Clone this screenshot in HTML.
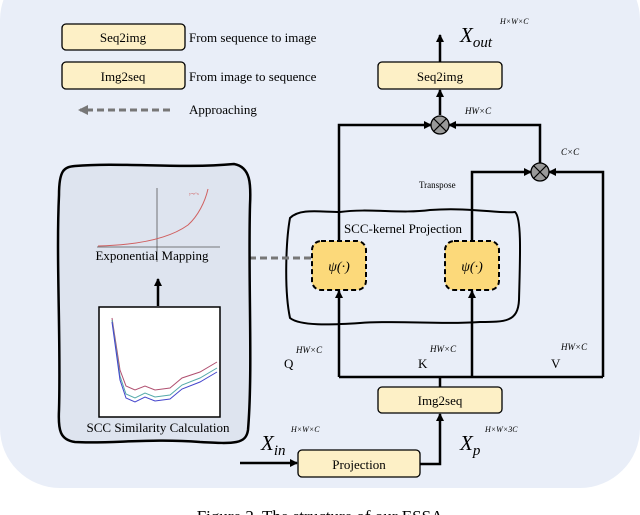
<!DOCTYPE html>
<html><head><meta charset="utf-8"><style>
body{margin:0;background:#fff}
svg{display:block}
text{font-family:"Liberation Serif",serif}
</style></head><body>
<svg width="640" height="515" viewBox="0 0 640 515">
<defs>
<marker id="a" markerWidth="8" markerHeight="8" refX="7" refY="4" orient="auto" markerUnits="userSpaceOnUse"><path d="M0,0L8,4L0,8z" fill="#000"/></marker>
<marker id="g" markerWidth="10" markerHeight="10" refX="8" refY="5" orient="auto" markerUnits="userSpaceOnUse"><path d="M0,0L10,5L0,10z" fill="#777"/></marker>
</defs>
<rect x="0" y="-40" width="640" height="528" rx="60" fill="#e9eef8"/>
<!-- legend -->
<rect x="62" y="24" width="123" height="26" rx="4" fill="#fdf0c6" stroke="#000" stroke-width="1.3"/>
<text x="123" y="42" font-size="13" text-anchor="middle">Seq2img</text>
<text x="189" y="42" font-size="13">From sequence to image</text>
<rect x="62" y="62" width="123" height="27" rx="4" fill="#fdf0c6" stroke="#000" stroke-width="1.3"/>
<text x="123" y="81" font-size="13" text-anchor="middle">Img2seq</text>
<text x="189" y="81" font-size="13">From image to sequence</text>
<line x1="170" y1="110" x2="80" y2="110" stroke="#777" stroke-width="3" stroke-dasharray="7,4" marker-end="url(#g)"/>
<text x="189" y="114" font-size="13">Approaching</text>
<!-- output -->
<rect x="378" y="62" width="124" height="27" rx="4" fill="#fdf0c6" stroke="#000" stroke-width="1.3"/>
<text x="440" y="81" font-size="13" text-anchor="middle">Seq2img</text>
<line x1="440" y1="62" x2="440" y2="35" stroke="#000" stroke-width="2.5" marker-end="url(#a)"/>
<text x="460" y="42" font-size="21" font-style="italic">X<tspan font-size="15" dy="5">out</tspan></text>
<text x="500" y="24" font-size="8" font-style="italic">H×W×C</text>
<line x1="440" y1="115" x2="440" y2="90" stroke="#000" stroke-width="2.5" marker-end="url(#a)"/>
<text x="465" y="114" font-size="9" font-style="italic">HW×C</text>
<polyline points="339,240 339,125 431,125" fill="none" stroke="#000" stroke-width="2.5" marker-end="url(#a)"/>
<polyline points="540,163 540,125 449,125" fill="none" stroke="#000" stroke-width="2.5" marker-end="url(#a)"/>
<circle cx="440" cy="125" r="9" fill="#999" stroke="#000" stroke-width="1.3"/>
<path d="M434,119L446,131M446,119L434,131" stroke="#000" stroke-width="1.2"/>
<polyline points="472,240 472,172 531,172" fill="none" stroke="#000" stroke-width="2.5" marker-end="url(#a)"/>
<polyline points="603,377 603,172 549,172" fill="none" stroke="#000" stroke-width="2.5" marker-end="url(#a)"/>
<circle cx="540" cy="172" r="9" fill="#999" stroke="#000" stroke-width="1.3"/>
<path d="M534,166L546,178M546,166L534,178" stroke="#000" stroke-width="1.2"/>
<text x="561" y="155" font-size="9" font-style="italic">C×C</text>
<text x="419" y="188" font-size="9">Transpose</text>
<!-- kernel blob -->
<path d="M290,218 C300,208 320,212 340,212 C370,208 400,214 430,210 C470,207 500,214 515,212 C522,218 520,260 519,300 C518,322 505,322 480,322 C440,325 400,320 360,323 C330,325 300,326 290,318 C284,290 286,240 290,218Z" fill="none" stroke="#000" stroke-width="2"/>
<text x="403" y="233" font-size="13" text-anchor="middle">SCC-kernel Projection</text>
<rect x="312" y="241" width="54" height="49" rx="9" fill="#fcd97a" stroke="#000" stroke-width="2" stroke-dasharray="5,3"/>
<text x="339" y="271" font-size="14" text-anchor="middle" font-style="italic">ψ(·)</text>
<rect x="445" y="241" width="54" height="49" rx="9" fill="#fcd97a" stroke="#000" stroke-width="2" stroke-dasharray="5,3"/>
<text x="472" y="271" font-size="14" text-anchor="middle" font-style="italic">ψ(·)</text>
<line x1="311" y1="258" x2="224" y2="258" stroke="#777" stroke-width="3" stroke-dasharray="7,4" marker-end="url(#g)"/>
<!-- Q K V -->
<polyline points="339,377 603,377" fill="none" stroke="#000" stroke-width="2.5"/>
<line x1="339" y1="377" x2="339" y2="291" stroke="#000" stroke-width="2.5" marker-end="url(#a)"/>
<line x1="472" y1="377" x2="472" y2="291" stroke="#000" stroke-width="2.5" marker-end="url(#a)"/>
<text x="284" y="368" font-size="13">Q</text><text x="296" y="353" font-size="9" font-style="italic">HW×C</text>
<text x="418" y="368" font-size="13">K</text><text x="430" y="352" font-size="9" font-style="italic">HW×C</text>
<text x="551" y="368" font-size="13">V</text><text x="561" y="350" font-size="9" font-style="italic">HW×C</text>
<line x1="440" y1="377" x2="440" y2="387" stroke="#000" stroke-width="2.5"/>
<rect x="378" y="387" width="124" height="26" rx="4" fill="#fdf0c6" stroke="#000" stroke-width="1.3"/>
<text x="440" y="405" font-size="13" text-anchor="middle">Img2seq</text>
<polyline points="420,464 440,464 440,414" fill="none" stroke="#000" stroke-width="2.5" marker-end="url(#a)"/>
<rect x="298" y="450" width="122" height="27" rx="4" fill="#fdf0c6" stroke="#000" stroke-width="1.3"/>
<text x="359" y="469" font-size="13" text-anchor="middle">Projection</text>
<!-- left panel -->
<path d="M75,166 C120,162 180,169 234,164 C251,167 251,185 250,205 C248,280 253,370 248,430 C246,444 235,444 200,442 C150,438 110,444 75,442 C60,440 58,430 59,410 C61,340 56,260 59,195 C59,170 64,167 75,166Z" fill="#dee4ef" stroke="#000" stroke-width="2.5"/>
<line x1="240" y1="463" x2="297" y2="463" stroke="#000" stroke-width="2.5" marker-end="url(#a)"/>
<text x="261" y="450" font-size="21" font-style="italic">X<tspan font-size="15" dy="5">in</tspan></text>
<text x="291" y="432" font-size="8" font-style="italic">H×W×C</text>
<text x="460" y="450" font-size="21" font-style="italic">X<tspan font-size="15" dy="5">p</tspan></text>
<text x="485" y="432" font-size="8" font-style="italic">H×W×3C</text>
<line x1="97" y1="247" x2="220" y2="247" stroke="#555" stroke-width="0.8"/>
<line x1="157" y1="262" x2="157" y2="188" stroke="#555" stroke-width="0.8"/>
<path d="M98,246 C140,245 170,238 188,225 C198,216 205,202 208,189" fill="none" stroke="#d06060" stroke-width="1"/>
<text x="189" y="195" font-size="4" fill="#d06060">y=e^x</text>
<text x="152" y="260" font-size="13" text-anchor="middle">Exponential Mapping</text>
<line x1="158" y1="306" x2="158" y2="279" stroke="#000" stroke-width="2.5" marker-end="url(#a)"/>
<rect x="99" y="307" width="121" height="110" fill="#fff" stroke="#000" stroke-width="1.5"/>
<path d="M112,318 L120,370 L126,386 L135,390 L145,386 L155,390 L170,388 L182,378 L200,372 L217,362" fill="none" stroke="#b05070" stroke-width="1"/>
<path d="M112,320 L120,376 L126,394 L135,398 L145,393 L155,397 L170,395 L182,385 L200,378 L217,368" fill="none" stroke="#5aa" stroke-width="1"/>
<path d="M112,322 L120,380 L126,398 L135,402 L145,397 L155,401 L170,399 L182,389 L200,382 L217,372" fill="none" stroke="#44c" stroke-width="1"/>
<text x="158" y="432" font-size="13" text-anchor="middle">SCC Similarity Calculation</text>
<text x="320" y="522" font-size="17" text-anchor="middle">Figure 2. The structure of our ESSA</text>
</svg>
</body></html>
